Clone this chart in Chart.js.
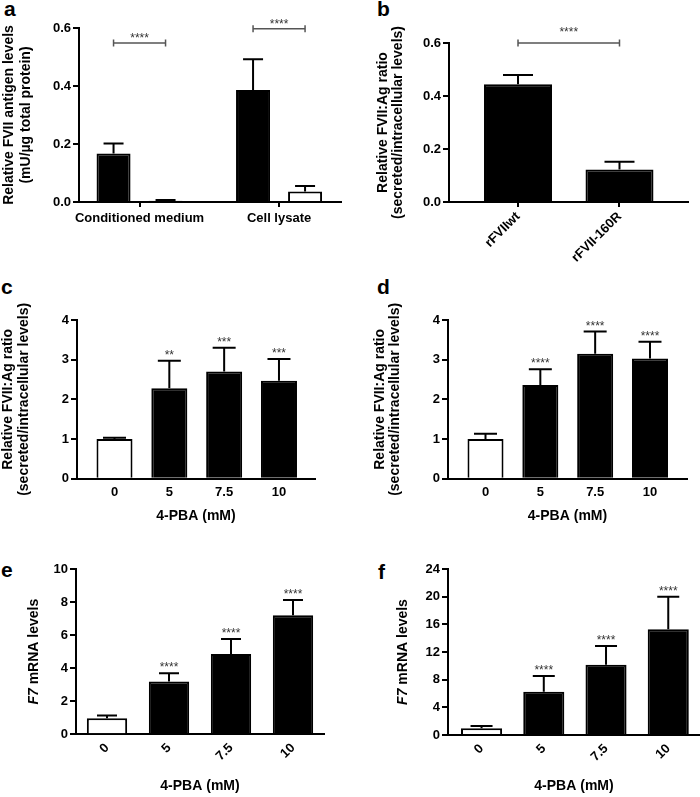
<!DOCTYPE html>
<html lang="en">
<head>
<meta charset="UTF-8">
<title>FVII 4-PBA panels</title>
<script src="https://cdn.jsdelivr.net/npm/chart.js"></script>
<style>
  body { margin: 0; background: #fff; width: 700px; height: 797px; position: relative; overflow: hidden;
         font-family: 'Liberation Sans', Arial, sans-serif; }
  canvas { position: absolute; }
  .tag { position: absolute; font-weight: bold; font-size: 21px; line-height: 20px; color: #000; }
</style>
</head>
<body>
<div class="tag" style="left:4px;top:-1px">a</div>
<div class="tag" style="left:377px;top:-1px">b</div>
<div class="tag" style="left:1px;top:277px">c</div>
<div class="tag" style="left:377px;top:277px">d</div>
<div class="tag" style="left:1px;top:560px">e</div>
<div class="tag" style="left:378px;top:562px">f</div>

<script>
// panel a: FVII antigen, wt (black) vs 160R (white)
const aCats = ['Conditioned medium', 'Cell lysate'];
const aWt = [0.167, 0.386];
const aWtErr = [0.035, 0.106];
const aMut = [0.004, 0.036];
const aMutErr = [0.003, 0.019];
const aSigY = [0.548, 0.597];
const aSigStars = ['****', '****'];

// panel b: secreted/intracellular ratio
const bCats = ['rFVIIwt', 'rFVII-160R'];
const bVals = [0.444, 0.123];
const bErr = [0.035, 0.029];
const bSigY = [0.6];
const bSigStars = ['****'];

// panels c-f: 4-PBA dose
const doseCats = ['0', '5', '7.5', '10'];
const cVals = [1.0, 2.28, 2.70, 2.47];
const cErr = [0.03, 0.69, 0.60, 0.55];
const cStars = ['', '**', '***', '***'];
const dVals = [1.0, 2.36, 3.15, 3.03];
const dErr = [0.13, 0.40, 0.56, 0.42];
const dStars = ['', '****', '****', '****'];
const eVals = [0.97, 3.19, 4.86, 7.20];
const eErr = [0.16, 0.50, 0.91, 0.93];
const eStars = ['', '****', '****', '****'];
const fVals = [0.96, 6.27, 10.17, 15.28];
const fErr = [0.34, 2.26, 2.70, 4.72];
const fStars = ['', '****', '****', '****'];

const FAM = "'Liberation Sans', Arial, sans-serif";
Chart.defaults.font.family = FAM;
Chart.defaults.color = '#000';

const pts = vals => vals.map((v, i) => ({ x: i, y: v }));

function drawPanel(p) {
  const cv = document.createElement('canvas');
  cv.width = p.w; cv.height = p.h;
  cv.style.left = p.x + 'px'; cv.style.top = p.y + 'px';
  document.body.appendChild(cv);

  // error bars + stars over each bar
  const errorBars = {
    id: 'errorBars',
    afterDatasetsDraw(chart) {
      const { ctx, scales: { y } } = chart;
      ctx.save();
      chart.data.datasets.forEach((ds, di) => {
        if (!ds.errors) return;
        chart.getDatasetMeta(di).data.forEach((bar, i) => {
          const top = y.getPixelForValue(ds.data[i].y + ds.errors[i]);
          ctx.strokeStyle = '#000';
          ctx.lineWidth = 2;
          ctx.beginPath();
          ctx.moveTo(bar.x, bar.y);
          ctx.lineTo(bar.x, top);
          ctx.moveTo(bar.x - p.cap / 2, top);
          ctx.lineTo(bar.x + p.cap / 2, top);
          ctx.stroke();
          if (ds.stars && ds.stars[i]) {
            ctx.fillStyle = '#333';
            ctx.font = '12px ' + FAM;
            ctx.textAlign = 'center';
            ctx.textBaseline = 'alphabetic';
            ctx.fillText(ds.stars[i], bar.x, top - 2);
          }
        });
      });
      ctx.restore();
    }
  };

  // significance brackets (panels a, b)
  const brackets = {
    id: 'brackets',
    afterDatasetsDraw(chart) {
      if (!p.sig) return;
      const { ctx, scales: { y } } = chart;
      ctx.save();
      p.sig.y.forEach((v, i) => {
        const a = chart.getDatasetMeta(p.sig.from[i][0]).data[p.sig.from[i][1]];
        const b = chart.getDatasetMeta(p.sig.to[i][0]).data[p.sig.to[i][1]];
        const py = y.getPixelForValue(v);
        ctx.strokeStyle = '#555';
        ctx.lineWidth = 1.5;
        ctx.beginPath();
        ctx.moveTo(a.x, py); ctx.lineTo(b.x, py);
        ctx.moveTo(a.x, py - 3.5); ctx.lineTo(a.x, py + 3.5);
        ctx.moveTo(b.x, py - 3.5); ctx.lineTo(b.x, py + 3.5);
        ctx.stroke();
        ctx.fillStyle = '#333';
        ctx.font = '12px ' + FAM;
        ctx.textAlign = 'center';
        ctx.fillText(p.sig.stars[i], (a.x + b.x) / 2, py - p.sig.gap);
      });
      ctx.restore();
    }
  };

  // y title with mixed italic (F7 mRNA levels)
  const yParts = {
    id: 'yParts',
    afterDraw(chart) {
      if (!p.yParts) return;
      const { ctx, chartArea } = chart;
      ctx.save();
      ctx.translate(p.yPartsX, (chartArea.top + chartArea.bottom) / 2);
      ctx.rotate(-Math.PI / 2);
      ctx.textBaseline = 'middle';
      ctx.textAlign = 'left';
      ctx.fillStyle = '#000';
      const fonts = p.yParts.map(t => (t.italic ? 'italic ' : '') + 'bold 14px ' + FAM);
      const widths = p.yParts.map((t, i) => { ctx.font = fonts[i]; return ctx.measureText(t.text).width; });
      let x = -widths.reduce((s, w) => s + w, 0) / 2;
      p.yParts.forEach((t, i) => { ctx.font = fonts[i]; ctx.fillText(t.text, x, 0); x += widths[i]; });
      ctx.restore();
    }
  };

  return new Chart(cv, {
    type: 'bar',
    data: { datasets: p.datasets },
    options: {
      responsive: false,
      animation: false,
      devicePixelRatio: 1,
      layout: { padding: { left: 0, top: p.area.t - p.y, right: p.x + p.w - p.area.r, bottom: 0 } },
      plugins: { legend: { display: false }, tooltip: { enabled: false } },
      datasets: { bar: { categoryPercentage: p.cat, barPercentage: p.bar, borderColor: '#000', borderWidth: 2 } },
      scales: {
        x: {
          type: 'linear',
          offset: false,
          bounds: 'data',
          min: p.xMin,
          max: p.xMax,
          afterBuildTicks: s => { s.ticks = p.cats.map((c, i) => ({ value: i })); },
          afterFit: s => { s.height = p.y + p.h - p.area.b; },
          ticks: {
            callback: v => p.cats[v],
            autoSkip: false,
            minRotation: p.rot,
            maxRotation: p.rot,
            padding: p.tickPad,
            color: '#000',
            font: { size: 13, weight: 'bold' }
          },
          grid: { offset: false, drawOnChartArea: false, drawTicks: p.xTicks, tickLength: 5, color: '#000', lineWidth: 2 },
          border: { color: '#000', width: 2 },
          title: p.xTitle
            ? { display: true, text: p.xTitle, color: '#000', font: { size: 14, weight: 'bold' }, padding: { top: 0, bottom: p.xTitlePad } }
            : { display: false }
        },
        y: {
          min: 0,
          max: p.yMax,
          afterFit: s => { s.width = p.area.l - p.x; },
          ticks: {
            stepSize: p.step,
            callback: v => v.toFixed(p.dec),
            padding: 2,
            color: '#000',
            font: { size: 13, weight: 'bold' }
          },
          grid: { drawOnChartArea: false, tickLength: 6, color: '#000', lineWidth: 2 },
          border: { color: '#000', width: 2 },
          title: p.yTitle
            ? { display: true, text: p.yTitle, color: '#000', font: { size: 14, weight: 'bold', lineHeight: p.lh }, padding: { top: p.yTitlePad, bottom: 0 } }
            : { display: false }
        }
      }
    },
    plugins: [errorBars, brackets, yParts]
  });
}

const firstWhite = c => (c.dataIndex === 0 ? '#fff' : '#000');

drawPanel({
  x: 0, y: 0, w: 350, h: 245, area: { l: 79, t: 28, r: 341, b: 202 },
  cats: aCats, xMin: -0.434, xMax: 1.444, cat: 0.7455, bar: 0.654,
  yMax: 0.6, step: 0.2, dec: 1, rot: 0, xTicks: true, tickPad: 4, cap: 20,
  yTitle: ['Relative FVII antigen levels', '(mU/µg total protein)'], lh: 1.25, yTitlePad: 0,
  sig: { y: aSigY, stars: aSigStars, from: [[0, 0], [0, 1]], to: [[1, 0], [1, 1]], gap: 1 },
  datasets: [
    { label: 'rFVIIwt', data: pts(aWt), errors: aWtErr, backgroundColor: '#000' },
    { label: 'rFVII-160R', data: pts(aMut), errors: aMutErr, backgroundColor: '#fff' }
  ]
});

drawPanel({
  x: 350, y: 0, w: 350, h: 275, area: { l: 449, t: 43, r: 688, b: 202 },
  cats: bCats, xMin: -0.680, xMax: 1.675, cat: 0.67, bar: 1,
  yMax: 0.6, step: 0.2, dec: 1, rot: 45, xTicks: true, tickPad: 2, cap: 30,
  yTitle: ['Relative FVII:Ag ratio', '(secreted/intracellular levels)'], lh: 1.08, yTitlePad: 25.5,
  sig: { y: bSigY, stars: bSigStars, from: [[0, 0]], to: [[0, 1]], gap: 7 },
  datasets: [{ label: 'FVII:Ag ratio', data: pts(bVals), errors: bErr, backgroundColor: '#000' }]
});

drawPanel({
  x: 0, y: 250, w: 350, h: 280, area: { l: 77, t: 320, r: 315, b: 478.7 },
  cats: doseCats, xMin: -0.684, xMax: 3.657, cat: 0.657, bar: 1,
  yMax: 4, step: 1, dec: 0, rot: 0, xTicks: false, tickPad: 6, cap: 23,
  yTitle: ['Relative FVII:Ag ratio', '(secreted/intracellular levels)'], lh: 1.15, yTitlePad: 0,
  xTitle: '4-PBA (mM)', xTitlePad: 5,
  datasets: [{ label: 'FVII:Ag ratio', data: pts(cVals), errors: cErr, stars: cStars, backgroundColor: firstWhite }]
});

drawPanel({
  x: 350, y: 250, w: 350, h: 280, area: { l: 448, t: 320, r: 687, b: 478.7 },
  cats: doseCats, xMin: -0.684, xMax: 3.675, cat: 0.657, bar: 1,
  yMax: 4, step: 1, dec: 0, rot: 0, xTicks: false, tickPad: 6, cap: 23,
  yTitle: ['Relative FVII:Ag ratio', '(secreted/intracellular levels)'], lh: 1.08, yTitlePad: 22.5,
  xTitle: '4-PBA (mM)', xTitlePad: 5,
  datasets: [{ label: 'FVII:Ag ratio', data: pts(dVals), errors: dErr, stars: dStars, backgroundColor: firstWhite }]
});

drawPanel({
  x: 0, y: 530, w: 350, h: 267, area: { l: 76, t: 569, r: 324, b: 734.3 },
  cats: doseCats, xMin: -0.5, xMax: 3.5, cat: 0.65, bar: 1,
  yMax: 10, step: 2, dec: 0, rot: 45, xTicks: false, tickPad: 6, cap: 20,
  yParts: [{ text: 'F7', italic: true }, { text: ' mRNA levels' }], yPartsX: 34,
  xTitle: '4-PBA (mM)', xTitlePad: 2,
  datasets: [{ label: 'F7 mRNA', data: pts(eVals), errors: eErr, stars: eStars, backgroundColor: firstWhite }]
});

drawPanel({
  x: 350, y: 530, w: 350, h: 267, area: { l: 448, t: 569, r: 700, b: 735 },
  cats: doseCats, xMin: -0.539, xMax: 3.51, cat: 0.66, bar: 1,
  yMax: 24, step: 4, dec: 0, rot: 45, xTicks: false, tickPad: 6, cap: 22,
  yParts: [{ text: 'F7', italic: true }, { text: ' mRNA levels' }], yPartsX: 53,
  xTitle: '4-PBA (mM)', xTitlePad: 2,
  datasets: [{ label: 'F7 mRNA', data: pts(fVals), errors: fErr, stars: fStars, backgroundColor: firstWhite }]
});
</script>
</body>
</html>
